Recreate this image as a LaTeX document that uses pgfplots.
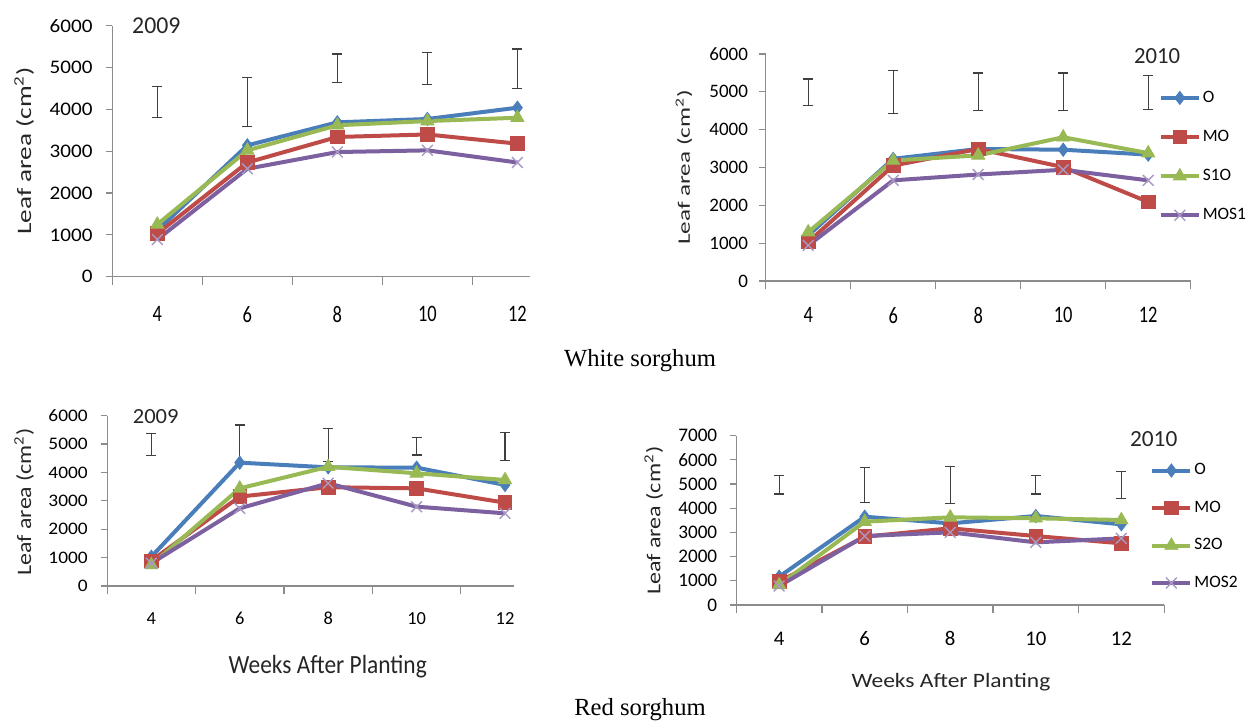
\documentclass[border=0pt]{standalone}
\usepackage{pgfplots}
\pgfplotsset{compat=1.18}
\usepackage{fontspec}
\usepackage{graphicx}
\setmainfont{Carlito}
\newfontfamily\cA{Carlito}
\newfontfamily\cX[FakeStretch=0.78]{Carlito}
\newfontfamily\cY[FakeStretch=1.1]{Carlito}
\newfontfamily\tnr{Liberation Serif}
\definecolor{cO}{HTML}{4A7EBB}
\definecolor{cMO}{HTML}{BE4B48}
\definecolor{cS}{HTML}{98B954}
\definecolor{cMOS}{HTML}{7D60A0}
\definecolor{cX}{HTML}{A898C4}
\definecolor{axgray}{HTML}{8C8C8C}
\definecolor{errc}{HTML}{404040}

\pgfplotsset{
  leafaxis/.style={
    scale only axis,
    axis x line*=bottom, axis y line*=left,
    axis line style={-, draw=axgray, line width=0.6pt},
    xmin=3, ymin=0,
    xtick={4,6,8,10,12},
    minor xtick={3,5,7,9,11,13},
    major x tick style={draw=none},
    minor x tick style={draw=axgray, line width=0.6pt},
    major y tick style={draw=axgray, line width=0.6pt},
    tick align=outside,
    major tick length=3.3pt,
    minor tick length=4.2pt,
    scaled y ticks=false,
    /pgf/number format/1000 sep={},
    /pgf/number format/assume math mode=true,
    clip=false,
    legend image code/.code={
      \draw[##1] (0pt,0pt) -- (19pt,0pt);
      \draw[##1, mark repeat=2, mark phase=2] plot coordinates {(0pt,0pt) (9.5pt,0pt) (19pt,0pt)};
    },
  },
  sO/.style={color=cO, line width=2pt, mark=diamond*, mark size=3.3pt, mark options={solid, line width=0.4pt}},
  sMO/.style={color=cMO, line width=2pt, mark=square*, mark size=3.4pt, mark options={solid, line width=0.4pt}},
  sS/.style={color=cS, line width=2pt, mark=triangle*, mark size=3.8pt, mark options={solid, line width=0.4pt}},
  sMOS/.style={color=cMOS, line width=2pt, mark=x, mark size=3.8pt, mark options={solid, draw=cX, line width=0.7pt}},
  errs/.style={forget plot, draw=none, mark=none,
    error bars/.cd, y dir=both, y explicit,
    error bar style={draw=errc, line width=0.6pt, solid},
    error mark options={draw=errc, line width=0.6pt, mark size=2.5pt, rotate=90}},
}

\begin{document}
\begin{tikzpicture}
\path[use as bounding box] (0,0) rectangle (623pt,361pt);

% ---------- White sorghum 2009 ----------
\begin{axis}[leafaxis, at={(56.15pt,222.65pt)}, anchor=south west,
  width=208.85pt, height=125.5pt, xmax=12.28, ymax=6000, ytick={0,1000,...,6000},
  yticklabel style={font=\cY\fontsize{9.6}{11}\selectfont, anchor=east, inner sep=0pt, xshift=-6.4pt},
  xticklabel style={font=\cX\fontsize{11.8}{13}\selectfont, anchor=center, inner sep=0pt, yshift=-15.5pt}]
\addplot[errs] coordinates {(4,4180) +- (0,366) (6,4180) +- (0,588) (8,4979) +- (0,346) (10,4975) +- (0,390) (12,4967) +- (0,477)};
\addplot[sO] coordinates {(4,1110) (6,3140) (8,3690) (10,3770) (12,4040)};
\addplot[sMO] coordinates {(4,1030) (6,2730) (8,3340) (10,3400) (12,3180)};
\addplot[sS] coordinates {(4,1250) (6,3020) (8,3620) (10,3720) (12,3800)};
\addplot[sMOS] coordinates {(4,890) (6,2580) (8,2980) (10,3020) (12,2730)};
\end{axis}

% ---------- White sorghum 2010 ----------
\begin{axis}[leafaxis, at={(382.85pt,220.5pt)}, anchor=south west,
  width=212.5pt, height=113.5pt, xmax=13, ymax=6000, ytick={0,1000,...,6000},
  yticklabel style={font=\cA\fontsize{9.5}{11}\selectfont, anchor=east, inner sep=0pt, xshift=-5.4pt},
  xticklabel style={font=\cX\fontsize{11.8}{13}\selectfont, anchor=center, inner sep=0pt, yshift=-13.85pt},
  legend style={draw=none, fill=none, at={(0.924,0.548)}, anchor=west, inner sep=0pt, row sep=10.4pt,
    font=\cA\fontsize{8.7}{10}\selectfont, nodes={inner sep=1pt}},
  legend cell align=left]
\addplot[errs] coordinates {(4,4989) +- (0,352) (6,4989) +- (0,572) (8,5002) +- (0,497) (10,5002) +- (0,497) (12,4980) +- (0,449)};
\addplot[sO] coordinates {(4,1205) (6,3230) (8,3490) (10,3470) (12,3340)};
\addplot[sMO] coordinates {(4,1030) (6,3050) (8,3490) (10,3010) (12,2090)};
\addplot[sS] coordinates {(4,1290) (6,3185) (8,3320) (10,3800) (12,3380)};
\addplot[sMOS] coordinates {(4,940) (6,2660) (8,2815) (10,2940) (12,2660)};
\legend{O, MO, S1O, MOS1}
\end{axis}

% ---------- Red sorghum 2009 ----------
\begin{axis}[leafaxis, at={(53.55pt,68pt)}, anchor=south west,
  width=203.6pt, height=85.15pt, xmax=12.21, ymax=6000, ytick={0,1000,...,6000},
  yticklabel style={font=\cY\fontsize{8.8}{10}\selectfont, anchor=east, inner sep=0pt, xshift=-6.2pt},
  xticklabel style={font=\cA\fontsize{9.2}{10}\selectfont, anchor=center, inner sep=0pt, yshift=-12.9pt}]
\addplot[errs] coordinates {(4,4985) +- (0,394) (6,5026) +- (0,646) (8,4967) +- (0,587) (10,4920) +- (0,305) (12,4908) +- (0,493)};
\addplot[sO] coordinates {(4,1030) (6,4345) (8,4180) (10,4170) (12,3560)};
\addplot[sMO] coordinates {(4,890) (6,3150) (8,3480) (10,3440) (12,2935)};
\addplot[sS] coordinates {(4,740) (6,3440) (8,4200) (10,3970) (12,3735)};
\addplot[sMOS] coordinates {(4,800) (6,2735) (8,3620) (10,2795) (12,2560)};
\end{axis}

% ---------- Red sorghum 2010 ----------
\begin{axis}[leafaxis, at={(368.2pt,58.5pt)}, anchor=south west,
  width=213.85pt, height=84.65pt, xmax=13, ymax=7000, ytick={0,1000,...,7000},
  yticklabel style={font=\cA\fontsize{9.6}{11}\selectfont, anchor=east, inner sep=0pt, xshift=-6.1pt},
  xticklabel style={font=\cA\fontsize{10.4}{12}\selectfont, anchor=center, inner sep=0pt, yshift=-13.4pt},
  legend style={draw=none, fill=none, at={(0.967,0.462)}, anchor=west, inner sep=0pt, row sep=9.6pt,
    font=\cA\fontsize{8.7}{10}\selectfont, nodes={inner sep=1pt}},
  legend cell align=left]
\addplot[errs] coordinates {(4,4968) +- (0,379) (6,4960) +- (0,717) (8,4961) +- (0,758) (10,4968) +- (0,379) (12,4961) +- (0,551)};
\addplot[sO] coordinates {(4,1170) (6,3650) (8,3375) (10,3680) (12,3335)};
\addplot[sMO] coordinates {(4,965) (6,2825) (8,3170) (10,2850) (12,2550)};
\addplot[sS] coordinates {(4,830) (6,3445) (8,3625) (10,3585) (12,3515)};
\addplot[sMOS] coordinates {(4,785) (6,2850) (8,3005) (10,2590) (12,2755)};
\legend{O, MO, S2O, MOS2}
\end{axis}

% ---------- texts ----------
\begin{scope}[every node/.style={inner sep=0pt, text=black!85}]
\node[rotate=90] at (12.05pt,285.6pt) {\resizebox*{84pt}{9.8pt}{\cA Leaf area (cm\textsuperscript{2})}};
\node[rotate=90] at (342pt,277.35pt) {\resizebox*{77.5pt}{8.35pt}{\cA Leaf area (cm\textsuperscript{2})}};
\node[rotate=90] at (12.05pt,110.15pt) {\resizebox*{73.5pt}{9.8pt}{\cA Leaf area (cm\textsuperscript{2})}};
\node[rotate=90] at (326.9pt,100.6pt) {\resizebox*{74.15pt}{9.4pt}{\cA Leaf area (cm\textsuperscript{2})}};
\node at (163.85pt,27.85pt) {\resizebox*{99pt}{11.35pt}{\cA Weeks After Planting}};
\node at (475.45pt,19.9pt) {\resizebox*{99.4pt}{8.85pt}{\cA Weeks After Planting}};
\node at (78.15pt,347.9pt) {\resizebox{24.1pt}{7.85pt}{\cA 2009}};
\node at (578.5pt,333pt) {\resizebox{23pt}{7.5pt}{\cA 2010}};
\node at (77.85pt,152.5pt) {\resizebox{22.85pt}{7pt}{\cA 2009}};
\node at (576.85pt,141.4pt) {\resizebox{23.65pt}{7.5pt}{\cA 2010}};
\node[text=black] at (320pt,180.5pt) {\tnr\fontsize{12.3}{14}\selectfont White sorghum};
\node[text=black, anchor=base] at (320pt,3pt) {\tnr\fontsize{12.3}{14}\selectfont Red sorghum};
\end{scope}
\end{tikzpicture}
\end{document}
